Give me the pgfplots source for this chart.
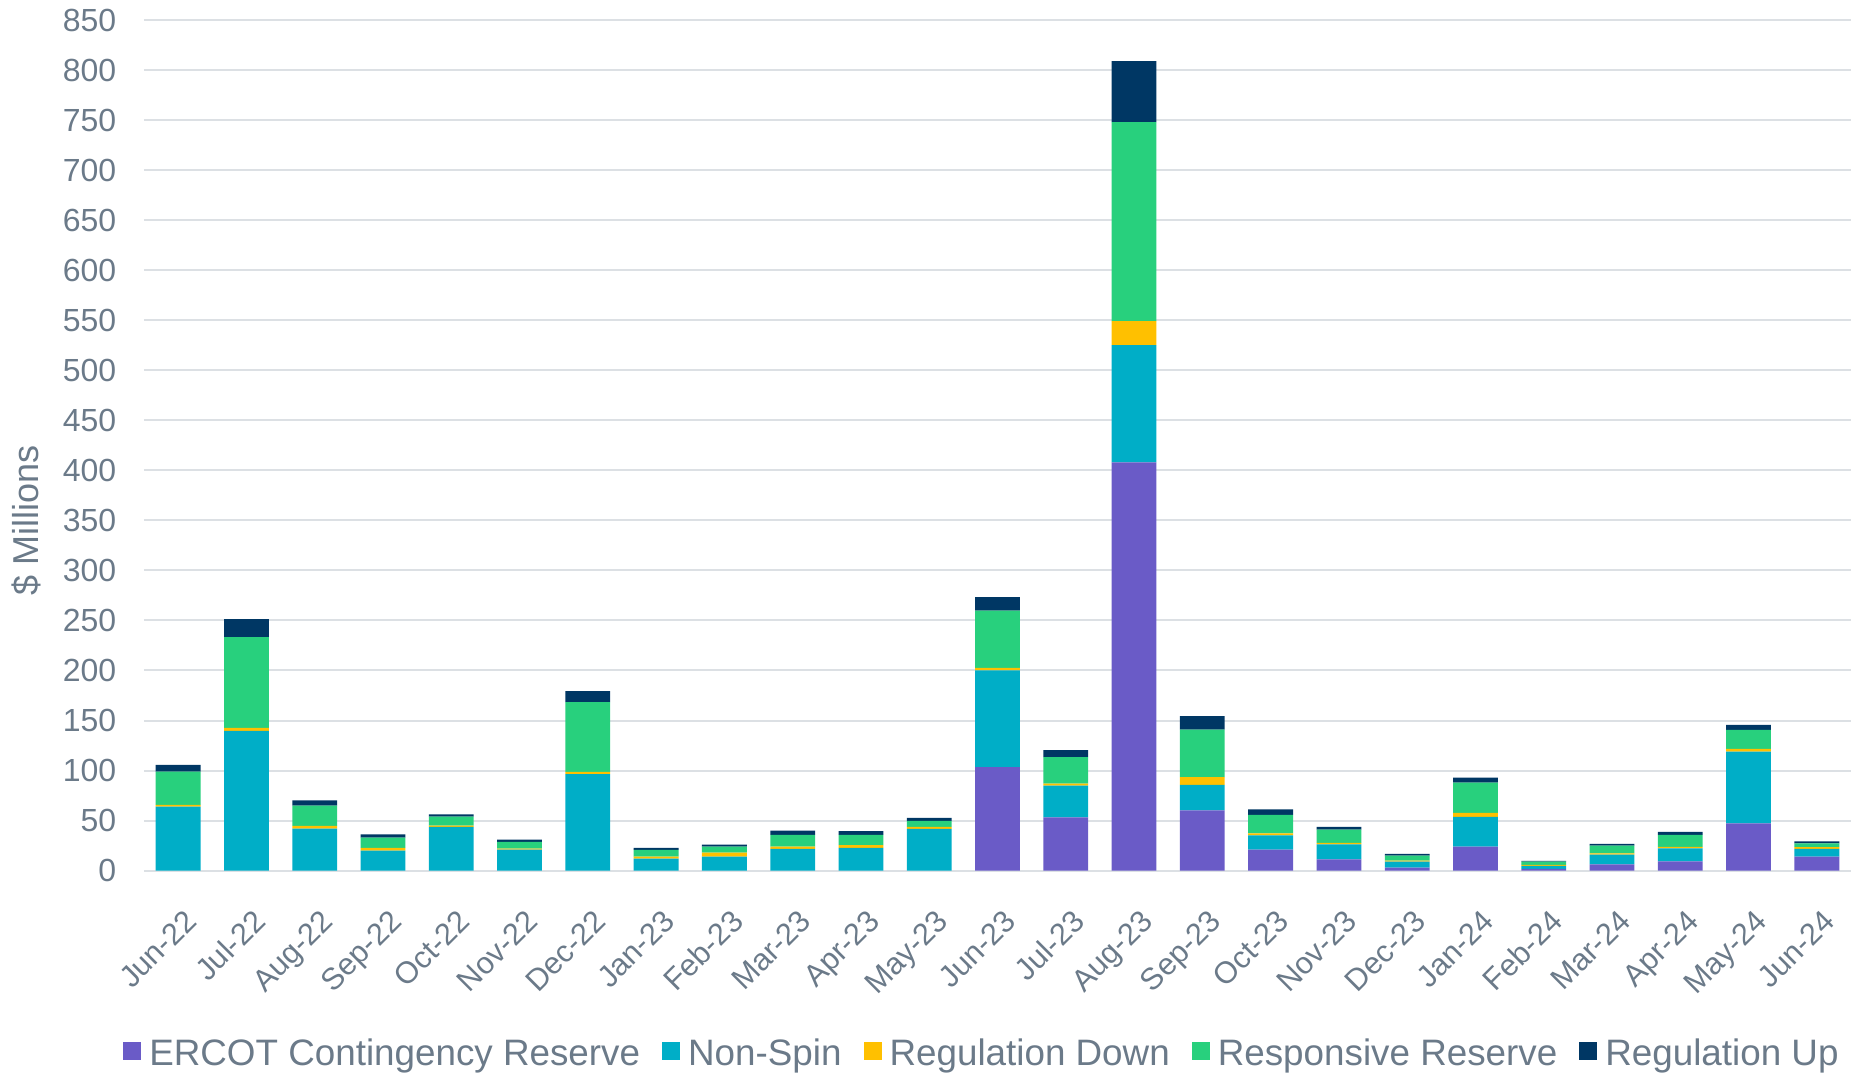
\documentclass[border=0pt]{standalone}
\usepackage{pgfplots}
\pgfplotsset{compat=1.18}
\usepackage{pgfplotstable}
\usepackage{fontspec}
\setmainfont{Liberation Sans}
\definecolor{ecr}{RGB}{106,91,199}
\definecolor{ns}{RGB}{0,174,199}
\definecolor{rd}{RGB}{255,192,0}
\definecolor{rr}{RGB}{40,208,125}
\definecolor{ru}{RGB}{0,55,100}
\definecolor{txt}{RGB}{107,122,137}
\definecolor{gridc}{RGB}{220,224,228}

\pgfplotstableread{
x ecr ns rd rr ru
0 0 64 1.7 33.3 6.7
1 0 139.7 3 90.6 18
2 0 42 2.7 20.3 5.3
3 0 20 2.7 10.3 3.3
4 0 43.7 1.3 9 2.3
5 0 21 1 6.7 2.3
6 0 96.3 2.3 69.7 11
7 0 12 2 6.7 2
8 0 14 4 6 2
9 0 21.7 2.3 11.7 4.3
10 0 22.7 2.7 10.3 3.7
11 0 41.7 2 6 3
12 103.3 96.7 2.7 57 13.7
13 53.3 31.7 2 26.3 7
14 408 117 24 199 61
15 60.3 25.3 7.7 47.7 13.3
16 21 14.3 2 18.3 5.7
17 11.3 15 1.3 13.3 2.7
18 3 6 1 5 1.7
19 24 29.7 4 30.3 5
20 1.7 3 1 3.3 0.7
21 6.3 9.7 1.3 7.7 1.7
22 9.3 13 1.3 12 3
23 47.3 71.7 2.7 19 5
24 14 7.7 1.7 3.7 2
}\datatable

\begin{document}
\begin{tikzpicture}
\begin{axis}[
  at={(0,0)}, anchor=south west,
  scale only axis, width=853.5pt, height=425.3pt,
  ybar stacked, bar width=22.4pt,
  xmin=-0.5, xmax=24.5, ymin=0, ymax=850,
  ytick distance=50,
  xtick={0,...,24},
  xticklabels={Jun-22,Jul-22,Aug-22,Sep-22,Oct-22,Nov-22,Dec-22,Jan-23,Feb-23,Mar-23,Apr-23,May-23,Jun-23,Jul-23,Aug-23,Sep-23,Oct-23,Nov-23,Dec-23,Jan-24,Feb-24,Mar-24,Apr-24,May-24,Jun-24},
  ymajorgrids, grid style={gridc, line width=1pt},
  axis line style={draw=none},
  major tick length=0pt,
  /pgf/number format/assume math mode=true,
  tick label style={color=txt},
  yticklabel style={font=\fontsize{16}{18}\selectfont, anchor=east, inner sep=0pt, xshift=-13.7pt},
  xticklabel style={font=\fontsize{15.3}{17}\selectfont, xshift=2.5pt, yshift=-18.5pt, rotate=45, anchor=north east, inner sep=0pt},
  ylabel={\$ Millions},
  ylabel style={at={(axis description cs:-0.0691,0.412)}, anchor=center, font=\fontsize{18}{20}\selectfont, color=txt},
  legend columns=5,
  legend style={at={(axis description cs:0.4903,-0.2156)}, anchor=center, draw=none, fill=none,
    font=\fontsize{18.4}{20}\selectfont, text=txt, nodes={inner sep=0pt},
    /tikz/every odd column/.append style={column sep=4pt},
    /tikz/every even column/.append style={column sep=11pt}},
]
\addplot[fill=ecr, draw=none, legend image code/.code={\fill[ecr] (0pt,-3pt) rectangle (9pt,6pt);}] table[x=x, y=ecr] {\datatable};
\addplot[fill=ns, draw=none, legend image code/.code={\fill[ns] (0pt,-3pt) rectangle (9pt,6pt);}] table[x=x, y=ns] {\datatable};
\addplot[fill=rd, draw=none, legend image code/.code={\fill[rd] (0pt,-3pt) rectangle (9pt,6pt);}] table[x=x, y=rd] {\datatable};
\addplot[fill=rr, draw=none, legend image code/.code={\fill[rr] (0pt,-3pt) rectangle (9pt,6pt);}] table[x=x, y=rr] {\datatable};
\addplot[fill=ru, draw=none, legend image code/.code={\fill[ru] (0pt,-3pt) rectangle (9pt,6pt);}] table[x=x, y=ru] {\datatable};
\legend{ERCOT Contingency Reserve, Non-Spin, Regulation Down, Responsive Reserve, Regulation Up}
\end{axis}
\pgfresetboundingbox
\path (-72pt,-103.15pt) rectangle (859pt,435.3pt);
\end{tikzpicture}
\end{document}
